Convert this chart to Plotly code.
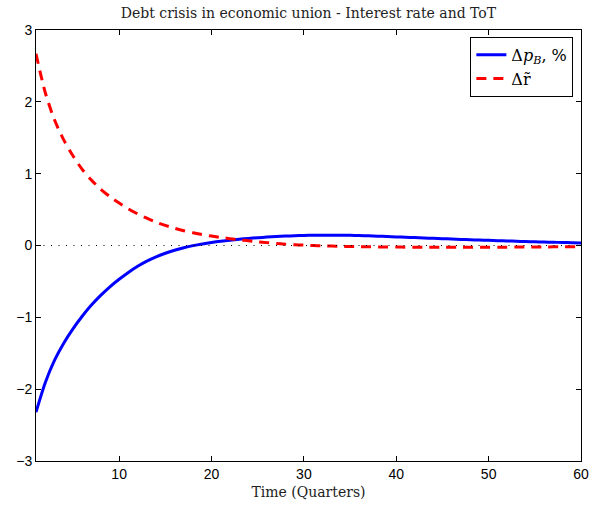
import plotly.graph_objects as go

# Quarters after the shock
quarters = list(range(1, 61))

# Terms-of-trade response, percent deviation
dp_b = [
    -2.32, -1.91, -1.60, -1.36, -1.16, -0.985, -0.83, -0.695, -0.575, -0.47,
    -0.375, -0.29, -0.218, -0.158, -0.108, -0.066, -0.031, -0.002, 0.022, 0.042,
    0.059, 0.074, 0.087, 0.098, 0.108, 0.117, 0.125, 0.131, 0.136, 0.140,
    0.143, 0.144, 0.144, 0.143, 0.141, 0.138, 0.134, 0.130, 0.125, 0.120,
    0.115, 0.110, 0.105, 0.100, 0.095, 0.090, 0.085, 0.080, 0.076, 0.072,
    0.067, 0.063, 0.059, 0.055, 0.051, 0.048, 0.045, 0.042, 0.039, 0.035,
]

# Interest rate response
dr = [
    2.67, 2.13, 1.75, 1.47, 1.25, 1.06, 0.91, 0.785, 0.68, 0.59,
    0.51, 0.44, 0.38, 0.325, 0.28, 0.24, 0.205, 0.177, 0.153, 0.131,
    0.112, 0.095, 0.079, 0.065, 0.052, 0.040, 0.029, 0.019, 0.011, 0.005,
    0.0, -0.004, -0.008, -0.011, -0.014, -0.016, -0.018, -0.020, -0.021, -0.022,
    -0.023, -0.024, -0.024, -0.025, -0.025, -0.025, -0.025, -0.025, -0.024, -0.024,
    -0.023, -0.023, -0.022, -0.021, -0.021, -0.020, -0.019, -0.018, -0.018, -0.017,
]

x_ticks = [10, 20, 30, 40, 50, 60]
y_ticks = [-3, -2, -1, 0, 1, 2, 3]

serif = "DejaVu Serif"
sans = "Liberation Sans"

fig = go.Figure()
fig.add_trace(go.Scatter(
    x=quarters, y=dp_b, mode="lines",
    name="Δ<i>p</i><sub><i>B</i></sub>, %",
    line=dict(color="#0000ff", width=3, shape="spline", smoothing=0.8),
))
fig.add_trace(go.Scatter(
    x=quarters, y=dr, mode="lines",
    name="Δr̃",
    line=dict(color="#ff0000", width=3, dash="10px,7px",
              shape="spline", smoothing=0.8),
))
# zero reference line
fig.add_trace(go.Scatter(
    x=[quarters[0], quarters[-1]], y=[0, 0], mode="lines",
    showlegend=False, hoverinfo="skip",
    line=dict(color="black", width=1, dash="1px,6.5px"),
))

axis_common = dict(
    showgrid=False, zeroline=False, showline=True, linecolor="black",
    linewidth=1, mirror="ticks", ticks="inside", ticklen=5,
    tickcolor="black", automargin=False,
    tickfont=dict(family=sans, size=14, color="black"),
)

fig.update_layout(
    width=592, height=509,
    margin=dict(l=36, r=11, t=30, b=48),
    paper_bgcolor="white", plot_bgcolor="white",
    title=dict(
        text="Debt crisis in economic union - Interest rate and ToT",
        x=0.521, xanchor="center", y=0.975, yanchor="middle",
        font=dict(family=serif, size=14, color="#222222"),
    ),
    xaxis=dict(
        range=[1, 60], tickvals=x_ticks,
        title=dict(text="Time (Quarters)", standoff=6,
                   font=dict(family=serif, size=14, color="#222222")),
        **axis_common,
    ),
    yaxis=dict(range=[-3, 3], tickvals=y_ticks, **axis_common),
    legend=dict(
        x=0.986, y=0.984, xanchor="right", yanchor="top",
        bgcolor="white", bordercolor="black", borderwidth=1,
        font=dict(family=serif, size=16, color="black"),
        tracegroupgap=0, itemwidth=30,
    ),
    showlegend=True,
)

fig.write_html("out.html")
